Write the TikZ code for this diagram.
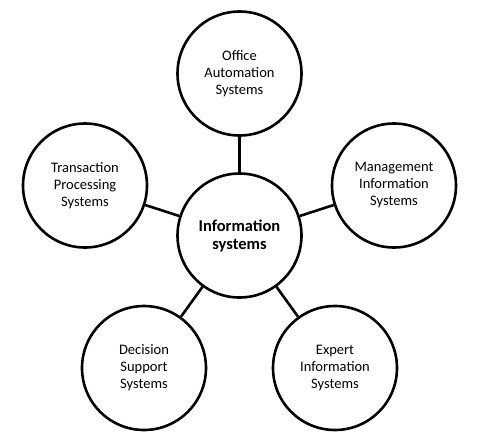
\documentclass[tikz,border=0pt]{standalone}
\usepackage{fontspec}
\setmainfont{Carlito}
\usepackage{tikz}
\usetikzlibrary{positioning}
\tikzset{
  every node/.style={
    circle,
    draw,
    line width=2.6pt,
    minimum size=124pt,
    align=center,
    fill=white
  },
  sysbox/.style={font=\fontsize{14.5}{17}\selectfont},
  hubbox/.style={font=\fontsize{16.5}{18}\selectfont\bfseries}
}

\begin{document}
\begin{tikzpicture}
      \useasboundingbox (0,0) rectangle (477pt,-447pt);
      \node [hubbox] (Info) at (239.5pt,-235.5pt) {Information\\systems};
      \node [on grid, above=162pt of Info, sysbox] (Office) {Office\\Automation\\Systems};
      \node [on grid, above left=50pt and 154.5pt of Info, sysbox] (Trans) {Transaction\\Processing\\Systems};
      \node [on grid, above right=50pt and 154.5pt of Info, sysbox] (Manage) {Management\\Information\\Systems};
      \node [on grid, below left=132.5pt and 95.5pt of Info, sysbox] (Decision) {Decision\\Support\\Systems};
      \node [on grid, below right=132.5pt and 95.5pt of Info, sysbox] (Expert) {Expert\\Information\\Systems};

      \foreach \n in {Office,Trans,Manage,Decision,Expert}
        \draw [line width=2.6pt] (Info) to (\n);
    \end{tikzpicture}
\end{document}
